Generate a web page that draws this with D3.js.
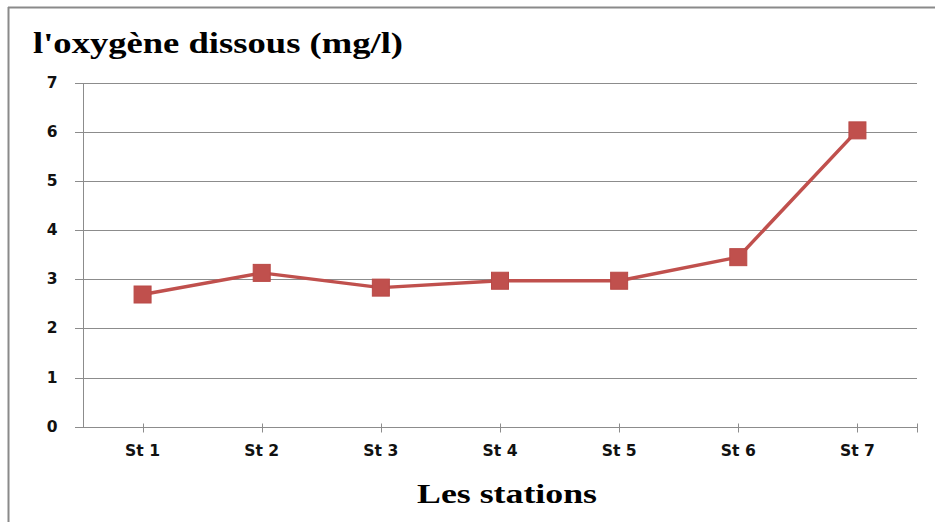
<!DOCTYPE html>
<html>
<head>
<meta charset="utf-8">
<script src="https://cdn.jsdelivr.net/npm/d3@7"></script>
<style>
  html, body { margin: 0; padding: 0; background: #fff; }
  svg { display: block; }
</style>
</head>
<body>
<svg id="chart" width="935" height="522"></svg>
<script>
// Dissolved oxygen (mg/l) measured at each station
const stations = ["St 1", "St 2", "St 3", "St 4", "St 5", "St 6", "St 7"];
const oxygen = [2.69, 3.13, 2.83, 2.97, 2.97, 3.45, 6.03];
const yTicks = [0, 1, 2, 3, 4, 5, 6, 7];

const titleText = "l'oxygène dissous (mg/l)";
const xTitleText = "Les stations";

const W = 935, H = 522;
const plot = { left: 83, right: 917, top: 82.7, bottom: 426.7 };

const svg = d3.select("#chart");

// Outer frame (left and top edges only are visible)
svg.append("line").attr("x1", 8.5).attr("x2", 8.5).attr("y1", 7).attr("y2", H)
  .attr("stroke", "#8a8a8a").attr("stroke-width", 2);
svg.append("line").attr("x1", 8).attr("x2", W).attr("y1", 7.5).attr("y2", 7.5)
  .attr("stroke", "#8a8a8a").attr("stroke-width", 2);

const x = d3.scalePoint().domain(stations).range([plot.left, plot.right]).padding(0.5);
const y = d3.scaleLinear().domain([0, 7]).range([plot.bottom, plot.top]);

// Horizontal gridlines with short outer ticks
const grid = svg.append("g");
grid.selectAll("line").data(yTicks.filter(d => d > 0)).join("line")
  .attr("x1", 75).attr("x2", plot.right)
  .attr("y1", d => Math.round(y(d)) + 0.5).attr("y2", d => Math.round(y(d)) + 0.5)
  .attr("stroke", "#8c8c8c").attr("stroke-width", 1);

// Y axis
const yAxis = svg.append("g")
  .attr("transform", `translate(${Math.round(plot.left) + 0.5},0)`)
  .call(d3.axisLeft(y).tickValues(yTicks).tickSize(8).tickPadding(18).tickFormat(d3.format("d")));
yAxis.select(".domain").attr("stroke", "#8c8c8c").attr("d", `M-8,${Math.round(plot.bottom)+0.5}H0V${Math.round(plot.top)+0.5}`);
yAxis.selectAll(".tick line").attr("stroke", "#8c8c8c");
yAxis.selectAll(".tick").attr("transform", d => `translate(0,${Math.round(y(d)) + 0.5})`);
yAxis.selectAll(".tick text")
  .attr("font-family", "'DejaVu Sans', Verdana, sans-serif")
  .attr("font-weight", "bold").attr("font-size", 15.5).attr("fill", "#111");

// X axis with ticks at category centres plus the closing tick
const xAxisY = Math.round(plot.bottom) + 0.5;
const xAxis = svg.append("g").attr("transform", `translate(0,${xAxisY})`);
xAxis.append("line").attr("x1", 75).attr("x2", plot.right).attr("y1", 0).attr("y2", 0)
  .attr("stroke", "#8c8c8c");
const tickXs = stations.map(s => x(s)).concat([plot.right]);
xAxis.selectAll("line.tk").data(tickXs).join("line").attr("class", "tk")
  .attr("x1", d => Math.round(d) + 0.5).attr("x2", d => Math.round(d) + 0.5)
  .attr("y1", -4).attr("y2", 5).attr("stroke", "#8c8c8c");
xAxis.selectAll("text").data(stations).join("text")
  .attr("x", d => x(d)).attr("y", 28.5)
  .attr("text-anchor", "middle")
  .attr("font-family", "'DejaVu Sans', Verdana, sans-serif")
  .attr("font-weight", "bold").attr("font-size", 15.5).attr("fill", "#111")
  .attr("textLength", 35).attr("lengthAdjust", "spacingAndGlyphs")
  .text(d => d);

// Data line and square markers
const line = d3.line().x((d, i) => x(stations[i])).y(d => y(d));
svg.append("path").datum(oxygen).attr("d", line)
  .attr("fill", "none").attr("stroke", "#C0504D").attr("stroke-width", 3.5)
  .attr("stroke-linejoin", "round");
const ms = 17;
svg.selectAll("rect.marker").data(oxygen).join("rect").attr("class", "marker")
  .attr("x", (d, i) => x(stations[i]) - ms / 2).attr("y", d => y(d) - ms / 2)
  .attr("width", ms).attr("height", ms)
  .attr("fill", "#C0504D").attr("stroke", "#B94A47").attr("stroke-width", 1);

// Titles (wide bold serif)
svg.append("text").attr("x", 33).attr("y", 53)
  .attr("font-family", "'Liberation Serif', 'Times New Roman', serif")
  .attr("font-weight", "bold").attr("font-size", 30).attr("fill", "#000")
  .attr("textLength", 370).attr("lengthAdjust", "spacingAndGlyphs")
  .text(titleText);
svg.append("text").attr("x", 417).attr("y", 503)
  .attr("font-family", "'Liberation Serif', 'Times New Roman', serif")
  .attr("font-weight", "bold").attr("font-size", 27.5).attr("fill", "#000")
  .attr("textLength", 180).attr("lengthAdjust", "spacingAndGlyphs")
  .text(xTitleText);
</script>
</body>
</html>
